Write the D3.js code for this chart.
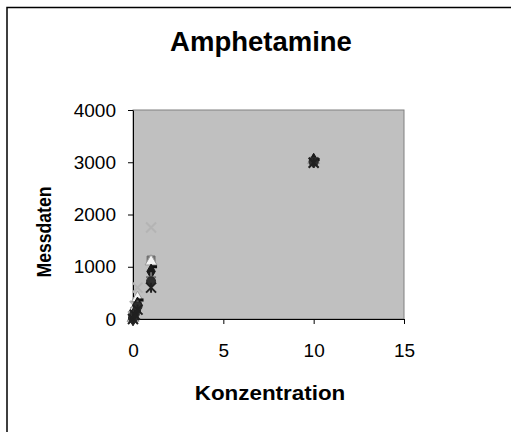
<!DOCTYPE html>
<html>
<head>
<meta charset="utf-8">
<script src="https://cdn.jsdelivr.net/npm/d3@7"></script>
<style>
  body { margin: 0; background: #fff; }
  text { font-family: Arial, "Liberation Sans", sans-serif; }
</style>
</head>
<body>
<script>
// concentrations (x) shared by all series
const konz = [0, 0.1, 0.25, 1, 10];

const s1 = [10, 120, 280, 910, 3030];
const s2 = [30, 150, 330, 1130, 3020];
const s3 = [20, 200, 400, 1100, 3040];
const s4 = [50, 250, 600, 1750, 3000];
const s5 = [0, 80, 180, 600, 2990];
const s6 = [15, 100, 240, 720, 3010];
const s7 = [25, 130, 260, 800, 3000];
const s8 = [5, 160, 365, 1000, 3050];

const xTicks = [0, 5, 10, 15];
const yTicks = [0, 1000, 2000, 3000, 4000];

const series = [
  { vals: s4, shape: "x", color: "#b4b4b4" },
  { vals: s2, shape: "square", color: "#7a7a7a" },
  { vals: s3, shape: "triangle", color: "#f4f4f4" },
  { vals: s8, shape: "dash", color: "#111" },
  { vals: s1, shape: "diamond", color: "#1a1a1a" },
  { vals: s7, shape: "plus", color: "#6e6e6e" },
  { vals: s6, shape: "circle", color: "#2e2e2e" },
  { vals: s5, shape: "star", color: "#202020" }
];

const W = 511, H = 432;
const margin = { top: 110, right: 107, bottom: 113, left: 133 };
const width = W - margin.left - margin.right;
const height = H - margin.top - margin.bottom;

const svg = d3.select("body").append("svg")
    .attr("width", W)
    .attr("height", H);

// outer chart border
svg.append("rect")
    .attr("x", 7).attr("y", 7.5)
    .attr("width", 600).attr("height", 600)
    .attr("fill", "none")
    .attr("stroke", "#000")
    .attr("stroke-width", 1.5);

svg.append("text")
    .attr("x", 261).attr("y", 51)
    .attr("text-anchor", "middle")
    .style("font-size", "27.5px")
    .style("font-weight", "bold")
    .text("Amphetamine");

const g = svg.append("g")
    .attr("transform", `translate(${margin.left},${margin.top})`);

const x = d3.scaleLinear().domain([0, 15]).range([0, width]);
const y = d3.scaleLinear().domain([0, 4000]).range([height, 0]);

g.append("rect")
    .attr("width", width).attr("height", height)
    .attr("fill", "#c0c0c0")
    .attr("stroke", "#808080")
    .attr("stroke-width", 1);

const xAxis = g.append("g")
    .attr("transform", `translate(0,${height})`)
    .call(d3.axisBottom(x).tickValues(xTicks).tickFormat(d3.format("d"))
      .tickSize(5).tickPadding(20).tickSizeOuter(0));
const yAxis = g.append("g")
    .call(d3.axisLeft(y).tickValues(yTicks).tickFormat(d3.format("d"))
      .tickSize(5).tickPadding(12).tickSizeOuter(0));

[xAxis, yAxis].forEach(a => {
  a.selectAll("text").style("font-size", "19px").style("font-family", "Arial, 'Liberation Sans', sans-serif").attr("fill", "#000");
  a.selectAll("line,path").attr("stroke", "#000");
});

// markers
const sym = {
  diamond: d3.symbolDiamond, square: d3.symbolSquare, triangle: d3.symbolTriangle,
  circle: d3.symbolCircle
};

series.forEach(s => {
  const pts = konz.map((k, i) => [x(k), y(s.vals[i])]);
  const grp = g.append("g");
  pts.forEach(([px, py]) => {
    if (sym[s.shape]) {
      grp.append("path")
          .attr("d", d3.symbol().type(sym[s.shape]).size(s.shape === "circle" ? 64 : 62)())
          .attr("transform", `translate(${px},${py})`)
          .attr("fill", s.color)
          .attr("stroke", s.shape === "triangle" ? "#999" : d3.color(s.color).darker(0.4))
          .attr("stroke-width", 1);
    } else if (s.shape === "x" || s.shape === "star") {
      const r = 5;
      grp.append("path")
          .attr("d", `M${-r},${-r}L${r},${r}M${-r},${r}L${r},${-r}` + (s.shape === "star" ? `M0,${-r}L0,${r}` : ""))
          .attr("transform", `translate(${px},${py})`)
          .attr("stroke", s.color).attr("stroke-width", 2).attr("fill", "none");
    } else if (s.shape === "plus") {
      const r = 5;
      grp.append("path")
          .attr("d", `M${-r},0L${r},0M0,${-r}L0,${r}`)
          .attr("transform", `translate(${px},${py})`)
          .attr("stroke", s.color).attr("stroke-width", 2).attr("fill", "none");
    } else if (s.shape === "dash") {
      grp.append("rect")
          .attr("x", px - 1).attr("y", py - 1.5)
          .attr("width", 7).attr("height", 3)
          .attr("fill", s.color);
    }
  });
});

svg.append("text")
    .attr("transform", "translate(270,400) scale(1.12,1)")
    .attr("text-anchor", "middle")
    .style("font-size", "20px")
    .style("font-weight", "bold")
    .text("Konzentration");

svg.append("text")
    .attr("transform", "translate(51,232) rotate(-90) scale(0.84,1)")
    .attr("text-anchor", "middle")
    .style("font-size", "21px")
    .style("font-weight", "bold")
    .text("Messdaten");
</script>
</body>
</html>
